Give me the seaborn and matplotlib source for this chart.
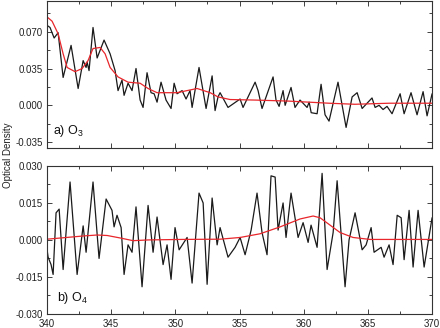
import numpy as np
import pandas as pd
import matplotlib
matplotlib.use("Agg")
import matplotlib.pyplot as plt
from matplotlib.ticker import MultipleLocator, FormatStrFormatter
import seaborn as sns

# ── Data ──────────────────────────────────────────────────────────────────────
# a) O3 : measured (black) and fitted cross-section (red)
o3_wl = [340.00, 340.23, 340.55, 340.86, 341.25, 341.87, 342.42, 342.81, 343.04,
         343.12, 343.27, 343.58, 343.90, 344.44, 344.91, 345.30, 345.53, 345.84,
         346.00, 346.31, 346.62, 346.93, 347.25, 347.48, 347.79, 348.10, 348.34,
         348.57, 348.88, 349.27, 349.66, 349.90, 350.13, 350.52, 350.83, 351.14,
         351.30, 351.84, 352.39, 352.86, 353.09, 353.32, 353.48, 354.10, 355.04,
         355.27, 356.21, 356.44, 356.75, 357.61, 357.84, 358.08, 358.39, 358.55,
         359.01, 359.32, 359.71, 360.26, 360.42, 360.58, 361.04, 361.35, 361.66,
         361.97, 362.67, 363.30, 363.77, 364.16, 364.55, 365.32, 365.56, 365.87,
         366.18, 366.49, 366.88, 367.51, 367.82, 368.36, 368.83, 369.30, 369.61,
         370.00]
o3_od = [0.076, 0.074, 0.064, 0.069, 0.0265, 0.057, 0.016, 0.0425, 0.036,
         0.041, 0.033, 0.074, 0.045, 0.062, 0.049, 0.033, 0.014, 0.024,
         0.0095, 0.021, 0.014, 0.035, 0.005, -0.002, 0.031, 0.012, 0.011,
         0.003, 0.022, 0.005, -0.003, 0.021, 0.011, 0.014, 0.006, 0.014,
         -0.002, 0.036, -0.003, 0.028, -0.005, 0.008, 0.012, -0.002, 0.006,
         -0.002, 0.022, 0.014, -0.003, 0.027, 0.005, -0.001, 0.014, 0.000,
         0.017, -0.002, 0.005, -0.002, 0.003, -0.007, -0.008, 0.020, -0.009,
         -0.015, 0.022, -0.021, 0.008, 0.012, -0.003, 0.007, -0.002, 0.000,
         -0.004, -0.001, -0.008, 0.011, -0.008, 0.012, -0.009, 0.013, -0.010,
         0.011]

o3_fit_wl = [340.0, 340.39, 340.86, 341.25, 341.56, 342.18, 342.73, 343.19,
             343.58, 344.13, 344.52, 344.91, 345.53, 346.31, 347.25, 347.87,
             348.57, 350.13, 351.69, 352.71, 353.32, 354.26, 356.21, 358.86,
             361.97, 363.98, 366.65, 370.0]
o3_fit = [0.084, 0.080, 0.068, 0.049, 0.036, 0.032, 0.035, 0.0425,
          0.054, 0.055, 0.049, 0.036, 0.027, 0.022, 0.021, 0.016,
          0.012, 0.012, 0.016, 0.012, 0.008, 0.0055, 0.005, 0.004,
          0.002, 0.001, 0.002, 0.002]

# b) O4 : measured (black) and fitted cross-section (red)
o4_wl = [340.00, 340.08, 340.31, 340.47, 340.70, 340.94, 341.25, 341.79, 342.34,
         342.81, 343.04, 343.58, 344.05, 344.60, 345.06, 345.22, 345.45, 345.77,
         346.00, 346.31, 346.62, 346.93, 347.40, 347.87, 348.26, 348.57, 349.04,
         349.35, 349.66, 349.97, 350.29, 350.91, 351.30, 351.84, 352.16, 352.47,
         352.86, 353.25, 353.48, 354.10, 354.65, 355.04, 355.43, 355.90, 356.36,
         356.75, 357.14, 357.45, 357.77, 358.00, 358.39, 358.62, 359.01, 359.32,
         359.56, 359.95, 360.34, 360.57, 361.04, 361.43, 361.82, 362.29, 362.60,
         363.22, 363.53, 364.00, 364.55, 364.86, 365.25, 365.48, 366.03, 366.26,
         366.65, 366.96, 367.28, 367.59, 367.82, 368.21, 368.52, 368.91, 369.38,
         370.00]
o4_od = [-0.004, -0.007, -0.010, -0.014, 0.011, 0.0125, -0.012, 0.0235, -0.014,
         0.0057, -0.005, 0.0235, -0.0075, 0.0166, 0.012, 0.0053, 0.010, 0.005,
         -0.014, -0.002, -0.005, 0.0134, -0.019, 0.014, -0.005, 0.0093, -0.010,
         -0.002, -0.016, 0.005, -0.004, 0.001, -0.0175, 0.019, 0.015, -0.018,
         0.017, -0.002, 0.005, -0.007, -0.003, 0.001, -0.006, 0.004, 0.019,
         0.003, -0.006, 0.026, 0.0255, 0.004, 0.015, 0.001, 0.019, 0.009,
         0.001, 0.007, -0.001, 0.006, -0.003, 0.027, -0.012, 0.003, 0.024,
         -0.019, 0.000, 0.011, -0.004, -0.002, 0.005, -0.005, -0.003, -0.007,
         -0.002, -0.010, 0.010, 0.009, -0.008, 0.012, -0.011, 0.012, -0.011,
         0.009]

o4_fit_wl = [340.0, 342.81, 343.90, 344.68, 345.69, 346.70, 347.87, 350.44,
             353.48, 355.04, 356.60, 358.16, 359.71, 360.73, 361.27, 362.05,
             362.83, 363.84, 365.17, 370.0]
o4_fit = [0.0003, 0.0016, 0.002, 0.0018, 0.0008, -0.0003, 0.0, 0.0002,
          0.0003, 0.001, 0.0025, 0.0053, 0.0085, 0.0097, 0.009, 0.006,
          0.003, 0.001, 0.0002, 0.0002]

# ── Style ─────────────────────────────────────────────────────────────────────
sns.set_theme(style="ticks")
plt.rcParams["font.family"] = ["Liberation Sans", "DejaVu Sans"]
plt.rcParams["mathtext.default"] = "regular"
plt.rcParams["axes.edgecolor"] = "#333333"
plt.rcParams["axes.linewidth"] = 0.8

fig = plt.figure(figsize=(4.4, 3.28), dpi=100)
ax_a = fig.add_axes([0.107, 0.549, 0.875, 0.449])
ax_b = fig.add_axes([0.107, 0.043, 0.875, 0.451])

panels = [
    (ax_a, o3_wl, o3_od, o3_fit_wl, o3_fit, "a) O$_3$", (-0.0405, 0.0995),
     0.035, (340.5, -0.0245)),
    (ax_b, o4_wl, o4_od, o4_fit_wl, o4_fit, "b) O$_4$", (-0.030, 0.030),
     0.015, (340.8, -0.0235)),
]

for ax, wl, od, fwl, fod, label, ylim, ystep, txy in panels:
    meas = pd.DataFrame({"wl": wl, "od": od})
    fit = pd.DataFrame({"wl": fwl, "od": fod})
    sns.lineplot(data=meas, x="wl", y="od", ax=ax, color="#1a1a1a",
                 linewidth=0.9, estimator=None, sort=False)
    sns.lineplot(data=fit, x="wl", y="od", ax=ax, color="#e8262b",
                 linewidth=0.9, estimator=None, sort=False)
    ax.set_xlim(340, 370)
    ax.set_ylim(*ylim)
    ax.xaxis.set_major_locator(MultipleLocator(5))
    ax.xaxis.set_minor_locator(MultipleLocator(2.5))
    ax.yaxis.set_major_locator(MultipleLocator(ystep))
    ax.yaxis.set_minor_locator(MultipleLocator(ystep / 2))
    ax.yaxis.set_major_formatter(FormatStrFormatter("%.3f"))
    ax.tick_params(which="both", direction="in", top=True, right=True,
                   labelsize=7, colors="#222222", width=0.6)
    ax.tick_params(axis="y", pad=3)
    ax.tick_params(axis="x", pad=4)
    ax.tick_params(which="major", length=3.5)
    ax.tick_params(which="minor", length=2.5)
    ax.set_xlabel("")
    ax.set_ylabel("")
    ax.text(txy[0], txy[1], label, fontsize=9, color="#111111",
            ha="left", va="center")

ax_a.tick_params(labelbottom=False)

fig.text(0.018, 0.527, "Optical Density", rotation=90, fontsize=7,
         ha="center", va="center", color="#222222")

plt.savefig("out.png", dpi=100)
plt.close()
